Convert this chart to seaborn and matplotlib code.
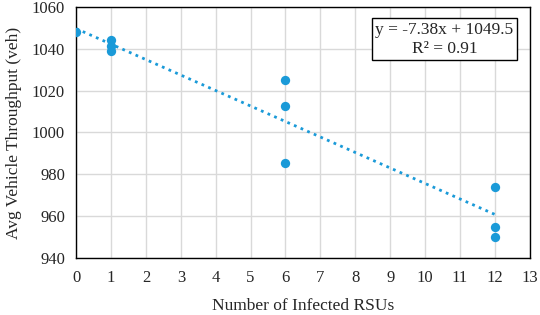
import numpy as np
import pandas as pd
import seaborn as sns
import matplotlib.pyplot as plt

# Data
infected_rsus = [0, 1, 1, 1, 6, 6, 6, 12, 12, 12]
throughput = [1048, 1044, 1041.5, 1039, 1025, 1012.5, 985.5, 974, 955, 950]
x_ticks = list(range(0, 14))
y_ticks = [940, 960, 980, 1000, 1020, 1040, 1060]

df = pd.DataFrame({'rsus': infected_rsus, 'veh': throughput})

sns.set_style('white')
plt.rcParams['font.family'] = ['Liberation Serif', 'DejaVu Serif']

fig = plt.figure(figsize=(5.4, 3.15), dpi=100)
ax = fig.add_axes([0.141, 0.181, 0.840, 0.797])

color = '#1A9AD8'

# linear trend line
slope, intercept = np.polyfit(df['rsus'], df['veh'], 1)
xs = np.array([df['rsus'].min(), df['rsus'].max()])
ax.plot(xs, slope * xs + intercept, linestyle=(0, (1, 1.6)), color=color, linewidth=2, zorder=2)

sns.scatterplot(data=df, x='rsus', y='veh', color=color, s=45, edgecolor=color, linewidth=0, ax=ax, zorder=3)

ax.set_xlim(0, 13)
ax.set_ylim(940, 1060)
ax.set_xticks(x_ticks)
ax.set_yticks(y_ticks)
ax.grid(True, color='#d9d9d9', linewidth=1)
ax.set_axisbelow(True)
for s in ax.spines.values():
    s.set_color('black')
    s.set_linewidth(1)
ax.tick_params(labelsize=12, length=0)
ax.tick_params(axis='x', pad=9)
ax.tick_params(axis='y', pad=8)
ax.set_xlabel('Number of Infected RSUs', fontsize=12.5, labelpad=8)
ax.set_ylabel('Avg Vehicle Throughput (veh)', fontsize=12.5, labelpad=7)

ax.text(0.812, 0.871, 'y = -7.38x + 1049.5\nR² = 0.91', transform=ax.transAxes,
        ha='center', va='center', fontsize=12.5, linespacing=1.2,
        bbox=dict(boxstyle='square,pad=0.22', facecolor='white', edgecolor='black', linewidth=1))

plt.savefig('out.png', dpi=100)
